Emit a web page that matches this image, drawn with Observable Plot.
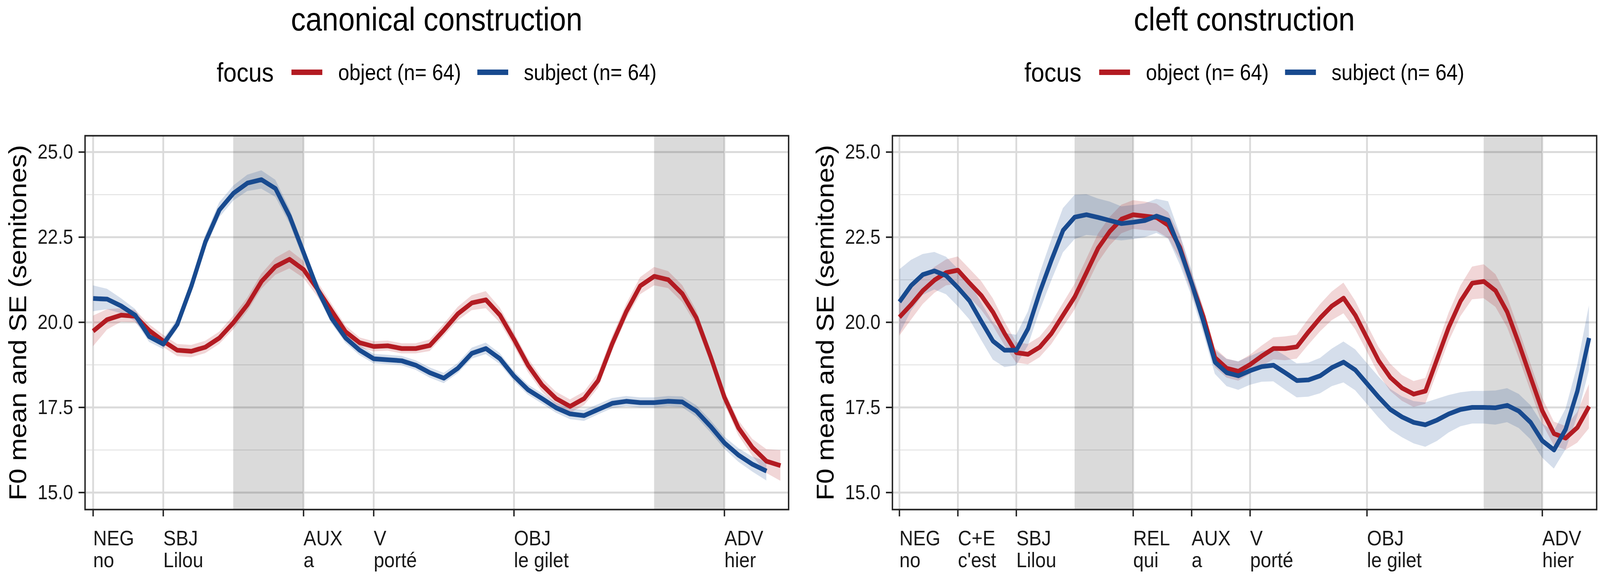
<!DOCTYPE html>
<html>
<head>
<meta charset="utf-8">
<script src="https://cdn.jsdelivr.net/npm/d3@7"></script>
<script src="https://cdn.jsdelivr.net/npm/@observablehq/plot@0.6"></script>
<style>
  html, body { margin: 0; padding: 0; background: #fff; overflow: hidden; }
  body { font-family: "Liberation Sans", Arial, Helvetica, sans-serif; color: #000; }
  #outer { position: relative; overflow: hidden; width: 4562px; height: 1472px; }
  #root { position: absolute; left: 0; top: 0; width: 4562px; height: 1472px; overflow: hidden; transform-origin: 0 0; }
  .fig { position: absolute; top: 0; }
  .title { position: absolute; top: 7px; height: 84px; line-height: 84px; font-size: 84px; text-align: center; white-space: nowrap; }
  .legend { position: absolute; top: 151px; height: 68px; display: flex; align-items: center; justify-content: center; white-space: nowrap; }
  .legend .ttl { font-size: 68px; line-height: 68px; margin-right: 51px; }
  .legend .key { width: 88px; height: 14px; margin-right: 45px; }
  .legend .lab { font-size: 57px; line-height: 57px; margin-right: 46px; }
  .legend .lab:last-child { margin-right: 0; }
  .plotwrap { position: absolute; top: 260px; left: 0; }
</style>
</head>
<body>
<div id="outer"><div id="root"></div></div>
<script>
// ---------- data ----------
const seriesNames = ["object (n= 64)", "subject (n= 64)"];
const seriesColors = ["#b31b22", "#184a8f"];
const timeStep = 0.2;

// canonical construction
const canonTickPos = [0, 1, 3, 4, 6, 9];
const canonTickLabels = ["NEG\nno", "SBJ\nLilou", "AUX\na", "V\nporté", "OBJ\nle gilet", "ADV\nhier"];
const canonShade = [[2, 3], [8, 9]];
const canonObject = [19.74, 20.08, 20.21, 20.18, 19.76, 19.45, 19.18, 19.15, 19.27, 19.54,
  19.99, 20.52, 21.20, 21.64, 21.85, 21.55, 20.97, 20.34, 19.72, 19.40,
  19.29, 19.31, 19.23, 19.23, 19.32, 19.77, 20.25, 20.57, 20.66, 20.21,
  19.50, 18.74, 18.16, 17.76, 17.53, 17.76, 18.29, 19.37, 20.31, 21.07,
  21.35, 21.25, 20.84, 20.13, 19.01, 17.80, 16.90, 16.32, 15.92, 15.79];
const canonObjectSE = [0.45, 0.30, 0.20, 0.18, 0.18, 0.18, 0.18, 0.18, 0.18, 0.18,
  0.20, 0.20, 0.22, 0.25, 0.27, 0.25, 0.22, 0.20, 0.18, 0.15,
  0.15, 0.15, 0.15, 0.15, 0.17, 0.18, 0.20, 0.22, 0.25, 0.22,
  0.20, 0.20, 0.20, 0.20, 0.20, 0.20, 0.22, 0.22, 0.22, 0.25,
  0.27, 0.25, 0.25, 0.22, 0.20, 0.20, 0.22, 0.25, 0.35, 0.45];
const canonSubject = [20.70, 20.68, 20.48, 20.21, 19.58, 19.36, 19.94, 21.06, 22.36, 23.30,
  23.79, 24.09, 24.19, 23.93, 23.12, 22.05, 20.97, 20.12, 19.54, 19.18,
  18.93, 18.90, 18.87, 18.74, 18.52, 18.36, 18.65, 19.09, 19.23, 18.93,
  18.42, 18.02, 17.76, 17.49, 17.31, 17.26, 17.44, 17.62, 17.68, 17.64,
  17.64, 17.68, 17.66, 17.39, 16.95, 16.46, 16.10, 15.83, 15.63];
const canonSubjectSE = [0.38, 0.30, 0.22, 0.18, 0.16, 0.15, 0.15, 0.17, 0.20, 0.22,
  0.22, 0.24, 0.27, 0.25, 0.22, 0.20, 0.18, 0.16, 0.15, 0.15,
  0.14, 0.14, 0.14, 0.14, 0.15, 0.15, 0.15, 0.16, 0.17, 0.16,
  0.15, 0.15, 0.15, 0.15, 0.16, 0.16, 0.15, 0.15, 0.15, 0.15,
  0.15, 0.15, 0.16, 0.17, 0.18, 0.18, 0.20, 0.22, 0.28];

// cleft construction
const cleftTickPos = [0, 1, 2, 4, 5, 6, 8, 11];
const cleftTickLabels = ["NEG\nno", "C+E\nc'est", "SBJ\nLilou", "REL\nqui", "AUX\na", "V\nporté", "OBJ\nle gilet", "ADV\nhier"];
const cleftShade = [[3, 4], [10, 11]];
const cleftObject = [20.15, 20.52, 20.93, 21.24, 21.46, 21.53, 21.15, 20.79, 20.30, 19.67,
  19.11, 19.06, 19.27, 19.67, 20.21, 20.75, 21.46, 22.18, 22.67, 23.03,
  23.16, 23.12, 23.08, 22.85, 22.20, 21.15, 20.17, 18.96, 18.65, 18.56,
  18.76, 19.01, 19.23, 19.23, 19.28, 19.72, 20.13, 20.48, 20.71, 20.21,
  19.54, 18.87, 18.38, 18.07, 17.89, 17.98, 18.92, 19.86, 20.62, 21.15,
  21.20, 20.93, 20.30, 19.37, 18.38, 17.40, 16.73, 16.60, 16.91, 17.53];
const cleftObjectSE = [0.55, 0.45, 0.40, 0.38, 0.38, 0.40, 0.42, 0.42, 0.40, 0.35,
  0.30, 0.30, 0.30, 0.32, 0.35, 0.38, 0.40, 0.42, 0.42, 0.42,
  0.42, 0.42, 0.40, 0.38, 0.35, 0.30, 0.28, 0.28, 0.28, 0.28,
  0.28, 0.30, 0.32, 0.35, 0.35, 0.38, 0.40, 0.42, 0.45, 0.42,
  0.40, 0.40, 0.40, 0.38, 0.38, 0.38, 0.40, 0.42, 0.45, 0.48,
  0.50, 0.48, 0.45, 0.42, 0.40, 0.38, 0.35, 0.35, 0.45, 0.65];
const cleftSubject = [20.60, 21.08, 21.40, 21.51, 21.37, 21.02, 20.63, 20.03, 19.45, 19.18,
  19.18, 19.81, 20.88, 21.82, 22.70, 23.09, 23.16, 23.08, 22.99, 22.90,
  22.94, 22.99, 23.12, 23.00, 22.14, 21.15, 20.03, 18.83, 18.52, 18.43,
  18.58, 18.70, 18.74, 18.52, 18.29, 18.31, 18.43, 18.67, 18.83, 18.60,
  18.20, 17.80, 17.44, 17.22, 17.06, 16.99, 17.13, 17.31, 17.44, 17.50,
  17.50, 17.49, 17.56, 17.39, 17.06, 16.52, 16.25, 16.86, 17.98, 19.54];
const cleftSubjectSE = [0.95, 0.75, 0.60, 0.55, 0.55, 0.55, 0.55, 0.55, 0.55, 0.50,
  0.45, 0.50, 0.55, 0.60, 0.65, 0.65, 0.60, 0.55, 0.55, 0.50,
  0.50, 0.50, 0.50, 0.55, 0.45, 0.38, 0.35, 0.35, 0.40, 0.42,
  0.42, 0.45, 0.48, 0.50, 0.50, 0.50, 0.52, 0.55, 0.60, 0.60,
  0.60, 0.60, 0.60, 0.60, 0.62, 0.65, 0.62, 0.55, 0.50, 0.48,
  0.48, 0.50, 0.50, 0.50, 0.50, 0.50, 0.55, 0.60, 0.75, 0.95];

const yTicks = [15, 17.5, 20, 22.5, 25];
const yMinorTicks = [16.25, 18.75, 21.25, 23.75];
const yLabel = "F0 mean and SE (semitones)";

// ---------- helpers ----------
function toRows(values, se, name) {
  return values.map((v, i) => ({ t: +(i * timeStep).toFixed(2), mean: v, lo: v - se[i], hi: v + se[i], focus: name }));
}

function panel(cfg) {
  const rows = [
    ...toRows(cfg.object, cfg.objectSE, seriesNames[0]),
    ...toRows(cfg.subject, cfg.subjectSE, seriesNames[1])
  ];
  const shade = cfg.shade.map(([a, b]) => ({ a, b }));
  const labelMap = new Map(cfg.tickPos.map((p, i) => [p, cfg.tickLabels[i]]));
  return Plot.plot({
    width: cfg.width,
    height: 1212,
    marginLeft: 242,
    marginRight: cfg.marginRight,
    marginTop: 87,
    marginBottom: 168,
    style: { fontFamily: '"Liberation Sans", Arial, Helvetica, sans-serif', background: "#fff", overflow: "visible" },
    x: { domain: cfg.xDomain },
    y: { domain: [14.5, 25.48] },
    color: { domain: seriesNames, range: seriesColors },
    marks: [
      Plot.gridY(yMinorTicks, { stroke: "#e3e3e3", strokeOpacity: 1, strokeWidth: 2.5 }),
      Plot.gridY(yTicks, { stroke: "#dadada", strokeOpacity: 1, strokeWidth: 5 }),
      Plot.gridX(cfg.tickPos, { stroke: "#dadada", strokeOpacity: 1, strokeWidth: 5 }),
      Plot.rect(shade, { x1: "a", x2: "b", fill: "#000", fillOpacity: 0.145 }),
      Plot.areaY(rows, { x: "t", y1: "lo", y2: "hi", fill: "focus", fillOpacity: 0.18, z: "focus" }),
      Plot.line(rows, { x: "t", y: "mean", stroke: "focus", z: "focus", strokeWidth: 12, strokeLinejoin: "round", strokeLinecap: "butt" }),
      Plot.frame({ stroke: "#222", strokeWidth: 4 }),
      Plot.axisY(yTicks, { tickFormat: d => d.toFixed(1), tickSize: 18, tickPadding: 16, fontSize: 52, strokeWidth: 4, stroke: "#222", fill: "#1a1a1a", label: null }),
      Plot.axisX(cfg.tickPos, { tickFormat: d => labelMap.get(d), tickSize: 18, tickPadding: 34, fontSize: 54, lineHeight: 1.03, textAnchor: "start", strokeWidth: 4, stroke: "#222", fill: "#1a1a1a", label: null }),
      Plot.text([yLabel], { text: d => d, frameAnchor: "left", dx: -190, rotate: -90, fontSize: 70, textAnchor: "middle", lineAnchor: "middle", fill: "#000" })
    ]
  });
}

function figure(cfg) {
  const fig = document.createElement("div");
  fig.className = "fig";
  fig.style.left = cfg.left + "px";
  fig.style.width = cfg.width + "px";
  fig.style.height = "1472px";
  const panelLeft = 242, panelW = cfg.width - 242 - cfg.marginRight;

  const title = document.createElement("div");
  title.className = "title";
  title.style.left = panelLeft + "px";
  title.style.width = panelW + "px";
  title.textContent = cfg.title;
  fig.appendChild(title);

  const leg = document.createElement("div");
  leg.className = "legend";
  leg.style.left = panelLeft + "px";
  leg.style.width = panelW + "px";
  const t = document.createElement("span"); t.className = "ttl"; t.textContent = "focus"; leg.appendChild(t);
  seriesNames.forEach((n, i) => {
    const k = document.createElement("span"); k.className = "key"; k.style.background = seriesColors[i]; leg.appendChild(k);
    const l = document.createElement("span"); l.className = "lab"; l.textContent = n; leg.appendChild(l);
  });
  fig.appendChild(leg);

  const wrap = document.createElement("div");
  wrap.className = "plotwrap";
  wrap.appendChild(panel(cfg));
  fig.appendChild(wrap);
  return fig;
}

const outer = document.getElementById("outer");
const root = document.getElementById("root");
root.appendChild(figure({
  title: "canonical construction", left: 0, width: 2300, marginRight: 52,
  xDomain: [-0.115, 9.915], tickPos: canonTickPos, tickLabels: canonTickLabels, shade: canonShade,
  object: canonObject, objectSE: canonObjectSE, subject: canonSubject, subjectSE: canonSubjectSE
}));
root.appendChild(figure({
  title: "cleft construction", left: 2302, width: 2260, marginRight: 10,
  xDomain: [-0.12, 11.93], tickPos: cleftTickPos, tickLabels: cleftTickLabels, shade: cleftShade,
  object: cleftObject, objectSE: cleftObjectSE, subject: cleftSubject, subjectSE: cleftSubjectSE
}));

// the 4562x1472 design is stretched to fill whatever viewport the browser really has
function fit() {
  const sx = Math.min(1, window.innerWidth / 4562);
  const sy = Math.min(1, window.innerHeight / 1472);
  root.style.transform = (sx < 0.999 || sy < 0.999) ? `scale(${sx}, ${sy})` : "";
  outer.style.width = Math.floor(4562 * sx) + "px";
  outer.style.height = Math.floor(1472 * sy) + "px";
}
fit();
window.addEventListener("resize", fit);
</script>
</body>
</html>
